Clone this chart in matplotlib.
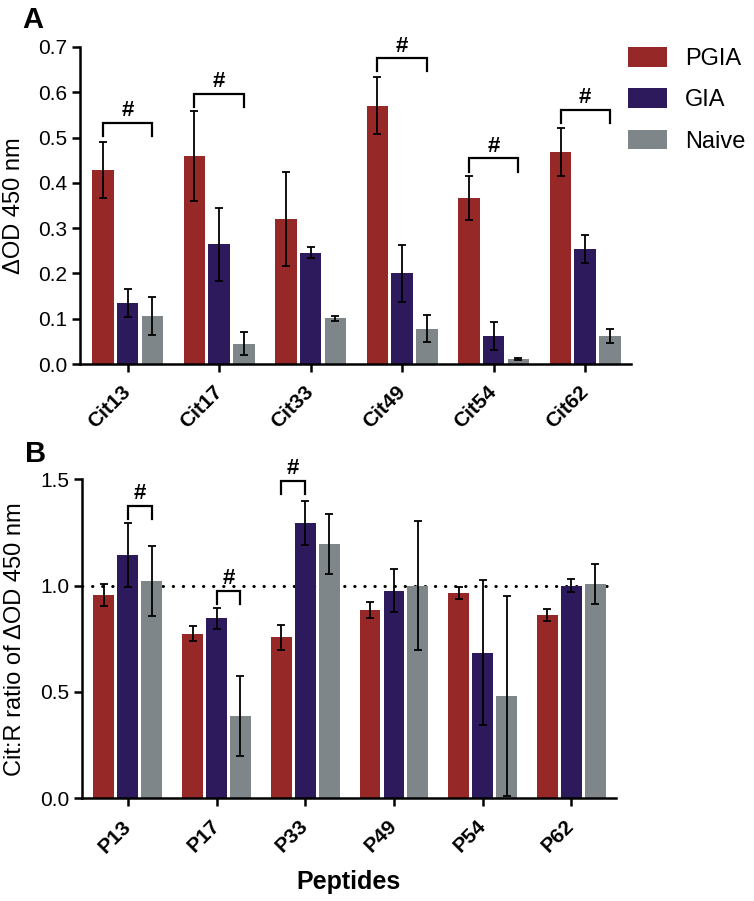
import matplotlib
matplotlib.use("Agg")
import matplotlib.pyplot as plt
import numpy as np

plt.rcParams['font.family'] = ['Liberation Sans', 'DejaVu Sans']

# ---------------- data ----------------
series = ["PGIA", "GIA", "Naive"]
colors = ["#962828", "#2c1a5c", "#7f868a"]

cats_a = ["Cit13", "Cit17", "Cit33", "Cit49", "Cit54", "Cit62"]
pgia_a = [0.428, 0.459, 0.321, 0.570, 0.367, 0.469]
gia_a = [0.134, 0.264, 0.246, 0.200, 0.062, 0.253]
naive_a = [0.107, 0.045, 0.101, 0.078, 0.011, 0.062]
pgia_a_err = [0.062, 0.100, 0.104, 0.063, 0.048, 0.053]
gia_a_err = [0.031, 0.080, 0.012, 0.063, 0.030, 0.031]
naive_a_err = [0.042, 0.025, 0.006, 0.030, 0.003, 0.016]

cats_b = ["P13", "P17", "P33", "P49", "P54", "P62"]
pgia_b = [0.956, 0.774, 0.757, 0.887, 0.964, 0.862]
gia_b = [1.145, 0.846, 1.296, 0.976, 0.685, 1.000]
naive_b = [1.020, 0.385, 1.196, 1.000, 0.481, 1.008]
pgia_b_err = [0.050, 0.036, 0.058, 0.037, 0.028, 0.030]
gia_b_err = [0.150, 0.050, 0.104, 0.100, 0.340, 0.030]
naive_b_err = [0.165, 0.188, 0.140, 0.305, 0.470, 0.094]

# significance brackets: (category index, first series, second series, height)
brackets_a = [(0, 0, 2, 0.532), (1, 0, 2, 0.597), (3, 0, 2, 0.675),
              (4, 0, 2, 0.454), (5, 0, 2, 0.561)]
brackets_b = [(0, 1, 2, 1.374), (1, 1, 2, 0.976), (2, 0, 1, 1.492)]

ref_line_b = 1.0

# ---------------- figure ----------------
W, H = 754, 901
fig = plt.figure(figsize=(W / 100, H / 100), dpi=100)

ax_a = fig.add_axes([80 / W, 1 - 364 / H, 551 / W, 317 / H])
ax_b = fig.add_axes([81.7 / W, 1 - 798.3 / H, 534 / W, 319 / H])

offsets = [-0.27, 0.0, 0.27]
bw = 0.235


def draw(ax, cats, vals, errs, ylim, yticks, ytickfmt):
    x = np.arange(len(cats))
    for i, (v, e) in enumerate(zip(vals, errs)):
        ax.bar(x + offsets[i], v, width=bw, color=colors[i], label=series[i],
               yerr=e, error_kw=dict(ecolor="black", elinewidth=1.3,
                                     capsize=3, capthick=1.3), zorder=2)
    ax.set_xlim(-0.52, 5.5)
    ax.set_ylim(*ylim)
    ax.set_yticks(yticks)
    ax.set_yticklabels([ytickfmt.format(t) for t in yticks], fontsize=15)
    ax.set_xticks(x)
    ax.set_xticklabels(cats, rotation=45, ha="right", va="center",
                       rotation_mode="anchor", fontsize=15, fontweight="bold")
    for s in ["top", "right"]:
        ax.spines[s].set_visible(False)
    for s in ["left", "bottom"]:
        ax.spines[s].set_linewidth(1.8)
    ax.tick_params(axis="both", length=6, width=1.8, direction="out")
    ax.tick_params(axis="x", pad=12)
    ax.tick_params(axis="y", pad=3)


def brackets(ax, items, leg, gap):
    for ci, s1, s2, y in items:
        x1 = ci + offsets[s1]
        x2 = ci + offsets[s2]
        ax.plot([x1, x1, x2, x2], [y - leg, y, y, y - leg], color="black",
                lw=1.6, solid_joinstyle="miter", zorder=3, clip_on=False)
        ax.text((x1 + x2) / 2, y + gap, "#", ha="center", va="bottom",
                fontsize=16, fontweight="bold")


draw(ax_a, cats_a, [pgia_a, gia_a, naive_a], [pgia_a_err, gia_a_err, naive_a_err],
     (0, 0.7), [0.0, 0.1, 0.2, 0.3, 0.4, 0.5, 0.6, 0.7], "{:.1f}")
draw(ax_b, cats_b, [pgia_b, gia_b, naive_b], [pgia_b_err, gia_b_err, naive_b_err],
     (0, 1.5), [0.0, 0.5, 1.0, 1.5], "{:.1f}")

brackets(ax_a, brackets_a, 0.029, 0.004)
brackets(ax_b, brackets_b, 0.063, 0.008)

ax_b.axhline(ref_line_b, color="black", lw=2.2, linestyle=(0, (0.1, 3.2)),
             dash_capstyle="round", zorder=1.5, xmax=0.985)

ax_a.set_ylabel("ΔOD 450 nm", fontsize=17)
ax_a.yaxis.set_label_coords(-0.10, 0.5)
ax_b.set_ylabel("Cit:R ratio of ΔOD 450 nm", fontsize=17)
ax_b.yaxis.set_label_coords(-0.105, 0.5)
ax_b.set_xlabel("Peptides", fontsize=18, fontweight="bold")
ax_b.xaxis.set_label_coords(0.5, -0.225)

leg = ax_a.legend(loc="upper left", bbox_to_anchor=(628 / W, 1 - 47 / H),
                  bbox_transform=fig.transFigure, frameon=False, fontsize=17,
                  handlelength=1.65, handleheight=0.9, handletextpad=0.75,
                  labelspacing=0.78, borderpad=0, borderaxespad=0)
for h in leg.legend_handles:
    h.set_edgecolor("none")

fig.text(22 / W, 1 - 6 / H, "A", fontsize=21, fontweight="bold", va="top", ha="left")
fig.text(25 / W, 1 - 440 / H, "B", fontsize=21, fontweight="bold", va="top", ha="left")

fig.savefig("out.png", dpi=100)
